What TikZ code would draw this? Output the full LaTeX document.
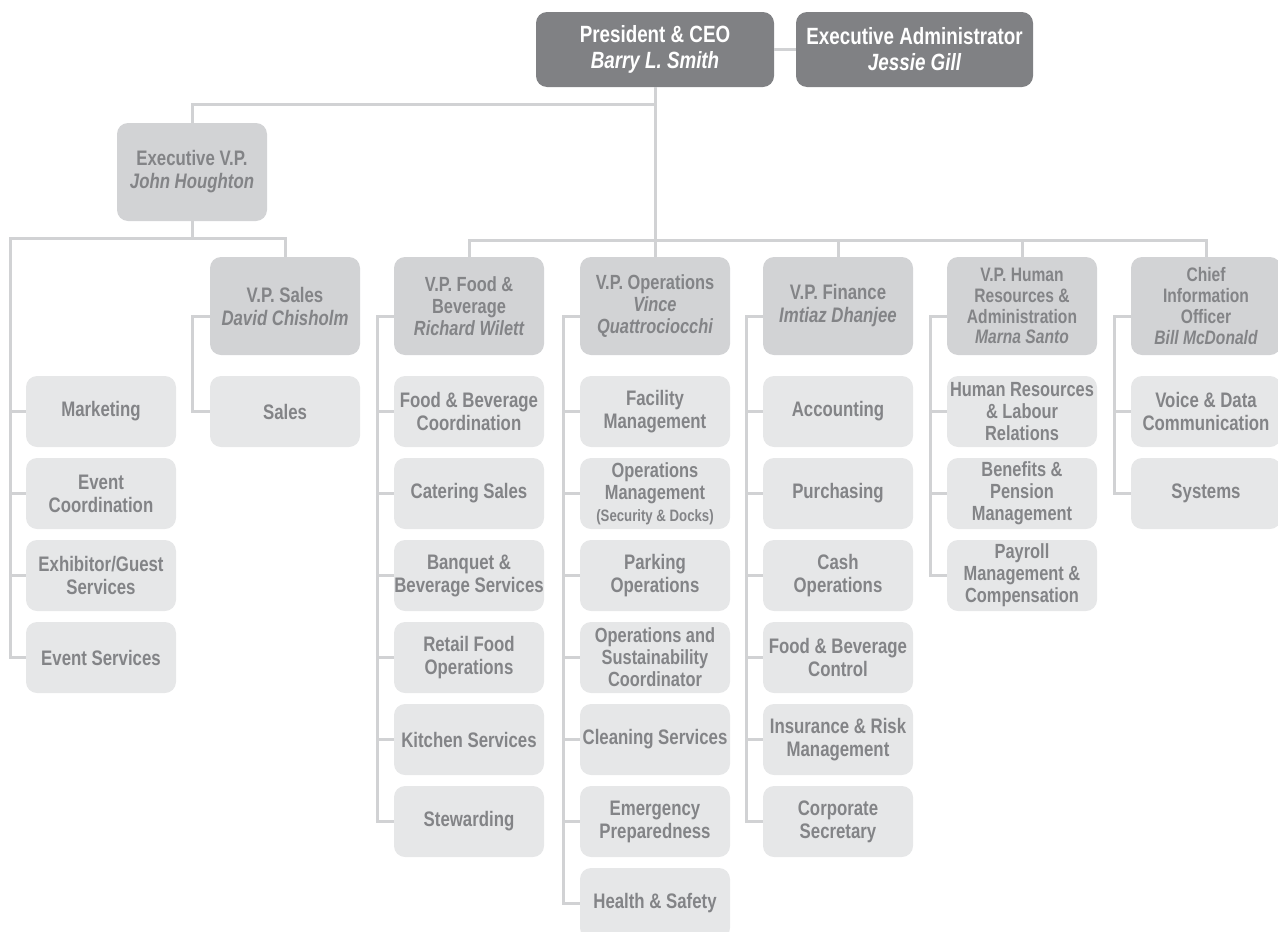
\documentclass[tikz,border=0pt]{standalone}
\usepackage{fontspec}
\setmainfont{Liberation Sans}[FakeStretch=0.8]
\definecolor{darkfill}{HTML}{808184}
\definecolor{vpfill}{HTML}{D2D3D5}
\definecolor{subfill}{HTML}{E6E7E8}
\definecolor{txtgrey}{HTML}{838487}
\definecolor{linegrey}{HTML}{D1D2D4}
\newcommand\fsubx{\fontsize{21}{23}\selectfont\bfseries}
\newcommand\fthreex{\fontsize{20.5}{22}\selectfont\bfseries}
\newcommand\ffourx{\fontsize{19.5}{20.8}\selectfont\bfseries}
\newcommand\ftopx{\fontsize{23.5}{26}\selectfont\bfseries}
\tikzset{
  boxbase/.style={rounded corners=11pt, minimum width=150pt, minimum height=71pt, inner sep=0pt, align=center, text=txtgrey, font=\fsubx},
  subbox/.style={boxbase, fill=subfill},
  vpbox/.style={boxbase, fill=vpfill, minimum height=98pt},
  topbox/.style={boxbase, fill=darkfill, text=white, minimum width=238pt, minimum height=75pt, font=\ftopx},
  three/.style={font=\fthreex},
  four/.style={font=\ffourx},
  conn/.style={draw=linegrey, line width=3pt}
}
\begin{document}
\begin{tikzpicture}[x=1pt,y=-1pt]
\useasboundingbox (0,0) rectangle (1278,932);
\clip (0,0) rectangle (1278,932);

% top
\node[topbox] (pres) at (655,49.5) {President \& CEO\\{\itshape Barry L. Smith}};
\node[topbox, minimum width=237pt] (exa) at (914.5,49.5) {Executive Administrator\\{\itshape Jessie Gill}};

% executive vp
\node[vpbox] (evp) at (192,172) {Executive V.P.\\{\itshape John Houghton}};

% vp row
\node[vpbox] (vps) at (285,306) {V.P. Sales\\{\itshape David Chisholm}};
\node[vpbox, three] (vfb) at (469,306) {V.P. Food \&\\Beverage\\{\itshape Richard Wilett}};
\node[vpbox, three] (vop) at (655,306) {V.P. Operations\\{\itshape Vince}\\{\itshape Quattrociocchi}};
\node[vpbox] (vfi) at (838,306) {V.P. Finance\\{\itshape Imtiaz Dhanjee}};
\node[vpbox, four] (vhr) at (1022,306) {V.P. Human\\Resources \&\\Administration\\{\itshape Marna Santo}};
\node[vpbox, four] (vci) at (1206,306) {Chief\\Information\\Officer\\{\itshape Bill McDonald}};

% left column
\node[subbox] (mk) at (101,411.5) {Marketing};
\node[subbox] (ec) at (101,493.5) {Event\\Coordination};
\node[subbox] (eg) at (101,575.5) {Exhibitor/Guest\\Services};
\node[subbox] (esv) at (101,657.5) {Event Services};

% sales
\node[subbox] (sl) at (285,411.5) {Sales};

% food & beverage
\node[subbox] (fb1) at (469,411.5) {Food \& Beverage\\Coordination};
\node[subbox] (fb2) at (469,493.5) {Catering Sales};
\node[subbox] (fb3) at (469,575.5) {Banquet \&\\Beverage Services};
\node[subbox] (fb4) at (469,657.5) {Retail Food\\Operations};
\node[subbox] (fb5) at (469,739.5) {Kitchen Services};
\node[subbox] (fb6) at (469,821.5) {Stewarding};

% operations
\node[subbox] (op1) at (655,411.5) {Facility\\Management};
\node[subbox, three] (op2) at (655,493.5) {Operations\\Management\\{\fontsize{16.5}{18}\selectfont (Security \& Docks)}};
\node[subbox] (op3) at (655,575.5) {Parking\\Operations};
\node[subbox, three] (op4) at (655,657.5) {Operations and\\Sustainability\\Coordinator};
\node[subbox] (op5) at (655,739.5) {Cleaning Services};
\node[subbox] (op6) at (655,821.5) {Emergency\\Preparedness};
\node[subbox] (op7) at (655,903.5) {Health \& Safety};

% finance
\node[subbox] (fi1) at (838,411.5) {Accounting};
\node[subbox] (fi2) at (838,493.5) {Purchasing};
\node[subbox] (fi3) at (838,575.5) {Cash\\Operations};
\node[subbox] (fi4) at (838,657.5) {Food \& Beverage\\Control};
\node[subbox] (fi5) at (838,739.5) {Insurance \& Risk\\Management};
\node[subbox] (fi6) at (838,821.5) {Corporate\\Secretary};

% human resources
\node[subbox, three] (hr1) at (1022,411.5) {Human Resources\\\& Labour\\Relations};
\node[subbox, three] (hr2) at (1022,493.5) {Benefits \&\\Pension\\Management};
\node[subbox, three] (hr3) at (1022,575.5) {Payroll\\Management \&\\Compensation};

% cio
\node[subbox] (ci1) at (1206,411.5) {Voice \& Data\\Communication};
\node[subbox] (ci2) at (1206,493.5) {Systems};

% connectors
\coordinate (t1) at (655,104);
\coordinate (t2) at (655,240);
\coordinate (ll) at (10,238);
\draw[conn] (pres.east) -- (exa.west);
\draw[conn] (pres.south) -- (t2);
\draw[conn] (t1) -| (evp.north);
\draw[conn] (vfb.north) |- (vci.north |- t2) -- (vci.north);
\draw[conn] (vop.north) -- (vop.north |- t2);
\draw[conn] (vfi.north) -- (vfi.north |- t2);
\draw[conn] (vhr.north) -- (vhr.north |- t2);

\draw[conn] (evp.south) -- (evp.south |- ll);
\draw[conn] (vps.north) |- (ll) |- (esv.west);
\foreach \n in {mk,ec,eg} \draw[conn] (\n.west) -- (\n.west -| ll);

\draw[conn] ([yshift=-10pt]vps.west) -- ++(-17,0) |- (sl.west);

\draw[conn] ([yshift=-10pt]vfb.west) -- ++(-16,0) |- (fb6.west);
\foreach \n in {fb1,fb2,fb3,fb4,fb5} \draw[conn] (\n.west) -- ++(-16,0);

\draw[conn] ([yshift=-10pt]vop.west) -- ++(-16,0) |- (op7.west);
\foreach \n in {op1,op2,op3,op4,op5,op6} \draw[conn] (\n.west) -- ++(-16,0);

\draw[conn] ([yshift=-10pt]vfi.west) -- ++(-16,0) |- (fi6.west);
\foreach \n in {fi1,fi2,fi3,fi4,fi5} \draw[conn] (\n.west) -- ++(-16,0);

\draw[conn] ([yshift=-10pt]vhr.west) -- ++(-16,0) |- (hr3.west);
\foreach \n in {hr1,hr2} \draw[conn] (\n.west) -- ++(-16,0);

\draw[conn] ([yshift=-10pt]vci.west) -- ++(-16,0) |- (ci2.west);
\draw[conn] (ci1.west) -- ++(-16,0);
\end{tikzpicture}
\end{document}
